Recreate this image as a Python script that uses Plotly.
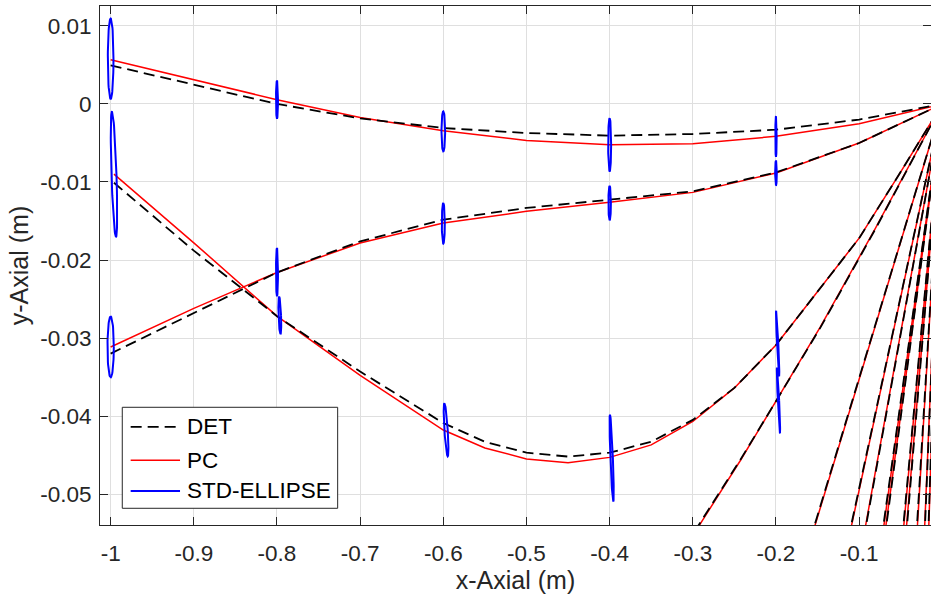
import numpy as np
import plotly.graph_objects as go

# ---------------- data ----------------
# Rays 1 and 2, sampled at the grid x positions (source at x=0)
grid_x = [-1.0, -0.9, -0.8, -0.7, -0.6, -0.5, -0.4, -0.3, -0.2, -0.1, 0.0]
ray1_det = [0.00495, 0.00247, 0.0, -0.00185, -0.00308, -0.00372, -0.00406, -0.00385, -0.0033, -0.0020, 0.0]
ray1_pc = [0.00568, 0.0031, 0.00055, -0.00172, -0.00342, -0.00467, -0.00522, -0.0051, -0.00415, -0.00253, 0.0]
ray2_det = [-0.0320, -0.0268, -0.0216, -0.01761, -0.01483, -0.01333, -0.01227, -0.0112, -0.00877, -0.0050, 0.0]
ray2_pc = [-0.03115, -0.0262, -0.0216, -0.01782, -0.01526, -0.01376, -0.01261, -0.01133, -0.00885, -0.0050, 0.0]

# Ray 3 (deep ray)
ray3_x = [-0.996, -0.9, -0.8, -0.7, -0.6, -0.55, -0.5, -0.45, -0.4, -0.35, -0.3, -0.25, -0.2, -0.15, -0.1, -0.05, 0.0]
ray3_det = [-0.0101, -0.0188, -0.0272, -0.0343, -0.0409, -0.0433, -0.0447, -0.0452, -0.0447, -0.0433, -0.0405,
            -0.0364, -0.0309, -0.0241, -0.0172, -0.0087, 0.0]
ray3_pc = [-0.0090, -0.0178, -0.0272, -0.0348, -0.0418, -0.0441, -0.0455, -0.0460, -0.0453, -0.0437, -0.0407,
           -0.0364, -0.0309, -0.0241, -0.0172, -0.0087, 0.0]

# Ray 4
ray4_x = [-0.32, -0.2932, -0.2428, -0.2, -0.1468, -0.0808, 0.0]
ray4_det = [-0.0585, -0.0540, -0.0456, -0.0381, -0.0287, -0.0161, 0.0]
ray4_pc = [-0.0587, -0.0542, -0.0457, -0.0381, -0.0286, -0.0160, 0.0]

# Fan of steep rays from the source: x reached at depth fan_y_end
fan_y_end = -0.06
fan_det_xend = [-0.1707, -0.1218, -0.1018, -0.0787, -0.0747, -0.0520, -0.0471, -0.0338, -0.0231, -0.0184]
fan_pc_xend = [-0.1700, -0.1212, -0.1024, -0.0780, -0.0753, -0.0514, -0.0477, -0.0332, -0.0235, -0.0180]
source_x = 0.0
source_y = 0.0

# Standard-deviation ellipses: centre, semi-axes, lean of the top
ell_cx = [-1.0, -0.996, -1.0, -0.8, -0.8, -0.7966, -0.6, -0.6, -0.5967, -0.4, -0.4, -0.3976, -0.2, -0.2, -0.198, -0.197]
ell_cy = [0.0058, -0.0090, -0.03114, 0.00055, -0.02156, -0.0271, -0.00351, -0.0153, -0.04176, -0.00522, -0.0127,
          -0.0454, -0.00419, -0.00885, -0.0307, -0.0380]
ell_rx = [0.0034, 0.0030, 0.0038, 0.0012, 0.0012, 0.0015, 0.0022, 0.0018, 0.0020, 0.0018, 0.0015, 0.0015,
          0.0008, 0.0010, 0.0008, 0.0008]
ell_ry = [0.00515, 0.00805, 0.0039, 0.00244, 0.0031, 0.0024, 0.00256, 0.0026, 0.0034, 0.0034, 0.0022, 0.00556,
          0.0026, 0.0016, 0.0042, 0.0042]
ell_lean = [0.0, -0.0024, 0.0, 0.0, 0.0, -0.0008, 0.0, 0.0, -0.0020, 0.0, 0.0, -0.0020,
            0.0, 0.0, -0.0018, -0.0018]

x_ticks = [-1.0, -0.9, -0.8, -0.7, -0.6, -0.5, -0.4, -0.3, -0.2, -0.1]
x_ticktext = ['-1', '-0.9', '-0.8', '-0.7', '-0.6', '-0.5', '-0.4', '-0.3', '-0.2', '-0.1']
y_ticks = [-0.05, -0.04, -0.03, -0.02, -0.01, 0.0, 0.01]
y_ticktext = ['-0.05', '-0.04', '-0.03', '-0.02', '-0.01', '0', '0.01']
x_range = [-1.0128, -0.0136]
y_range = [-0.05397, 0.01256]

legend_names = ['DET', 'PC', 'STD-ELLIPSE']


# ---------------- build the traces ----------------
def join(segments):
    xs, ys = [], []
    for sx, sy in segments:
        xs += list(sx) + [None]
        ys += list(sy) + [None]
    return xs, ys


def fan_segments(xend):
    return [([xe, source_x], [fan_y_end, source_y]) for xe in xend]


det_x, det_y = join([(grid_x, ray1_det), (grid_x, ray2_det), (ray3_x, ray3_det), (ray4_x, ray4_det)]
                    + fan_segments(fan_det_xend))
pc_x, pc_y = join([(grid_x, ray1_pc), (grid_x, ray2_pc), (ray3_x, ray3_pc), (ray4_x, ray4_pc)]
                  + fan_segments(fan_pc_xend))

t = np.linspace(0, 2 * np.pi, 73)
ell_segs = []
for cx, cy, rx, ry, ln in zip(ell_cx, ell_cy, ell_rx, ell_ry, ell_lean):
    ell_segs.append((cx + rx * np.cos(t) + ln * np.sin(t), cy + ry * np.sin(t)))
el_x, el_y = join(ell_segs)

DET_STYLE = dict(color='#000000', width=1.8, dash='11px,6px')
PC_STYLE = dict(color='#ff0000', width=1.5)
EL_STYLE = dict(color='#0000ff', width=2)

fig = go.Figure()
fig.add_trace(go.Scatter(x=pc_x, y=pc_y, mode='lines', name='PC', line=PC_STYLE, showlegend=False))
fig.add_trace(go.Scatter(x=det_x, y=det_y, mode='lines', name='DET', line=DET_STYLE, showlegend=False))
fig.add_trace(go.Scatter(x=el_x, y=el_y, mode='lines', name='STD-ELLIPSE', line=EL_STYLE, showlegend=False))

# ---------------- MATLAB-style legend box ----------------
L_X0, L_X1, L_Y0, L_Y1 = 0.0268, 0.2860, 0.0322, 0.2268
row_y = [0.1889, 0.1247, 0.0656]
sample_x0, sample_x1, text_x = 0.0369, 0.0963, 0.1023
shapes = [dict(type='rect', xref='paper', yref='paper', x0=L_X0, x1=L_X1, y0=L_Y0, y1=L_Y1,
               line=dict(color='#262626', width=1), fillcolor='white', layer='above')]
annotations = []
for name, ry, sty in zip(legend_names, row_y, [DET_STYLE, PC_STYLE, EL_STYLE]):
    ln = dict(color=sty['color'], width=sty['width'])
    if 'dash' in sty:
        ln['dash'] = sty['dash']
    shapes.append(dict(type='line', xref='paper', yref='paper', x0=sample_x0, x1=sample_x1,
                       y0=ry, y1=ry, line=ln, layer='above'))
    annotations.append(dict(text=name, xref='paper', yref='paper', x=text_x, y=ry,
                            xanchor='left', yanchor='middle', showarrow=False,
                            font=dict(size=22.5, color='black')))

axis_common = dict(showgrid=True, gridcolor='#dfdfdf', gridwidth=1, zeroline=False,
                   showline=True, linecolor='#262626', linewidth=1, mirror='ticks',
                   ticks='inside', ticklen=8, tickcolor='#262626',
                   tickfont=dict(size=22.5, color='#262626'))

fig.update_layout(
    width=931, height=602,
    margin=dict(l=100, r=0, t=6, b=77),
    paper_bgcolor='white', plot_bgcolor='white',
    font=dict(family='Liberation Sans, Arial, sans-serif', size=22, color='#262626'),
    xaxis=dict(range=x_range, tickvals=x_ticks, ticktext=x_ticktext,
               title=dict(text='x-Axial (m)', font=dict(size=25, color='#262626'), standoff=6),
               ticklabelstandoff=8, **axis_common),
    yaxis=dict(range=y_range, tickvals=y_ticks, ticktext=y_ticktext,
               title=dict(text='y-Axial (m)', font=dict(size=25, color='#262626'), standoff=4),
               ticklabelstandoff=3, **axis_common),
    shapes=shapes,
    annotations=annotations,
    showlegend=False,
)

fig.write_html('out.html')
